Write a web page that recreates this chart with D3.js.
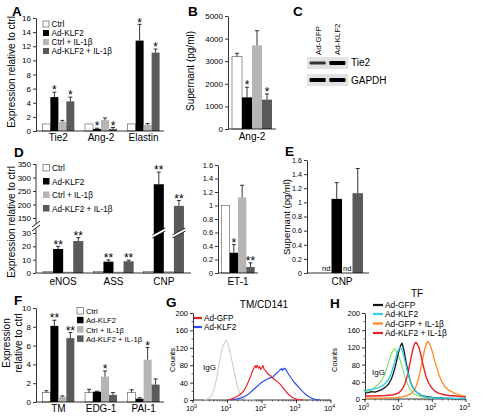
<!DOCTYPE html>
<html><head><meta charset="utf-8">
<script src="https://cdn.jsdelivr.net/npm/d3@7"></script>
<style>body{margin:0;background:#fff}svg text{font-family:"Liberation Sans",Arial,sans-serif;fill:#000}</style>
</head><body><svg id="c" width="483" height="417"></svg>
<script>
// ---------- shared series ----------
const seriesNames = ["Ctrl", "Ad-KLF2", "Ctrl + IL-1β", "Ad-KLF2 + IL-1β"];
const seriesColors = ["#ffffff", "#000000", "#b5b5b5", "#5a5a5a"];

// ---------- Panel A ----------
const aCats = ["Tie2", "Ang-2", "Elastin"];
const aVals = [[1, 4.8, 1.3, 4.2], [1, 0.3, 1.55, 0.3], [1, 12.8, 0.85, 11.1]];
const aErrs = [[0, 0.7, 0.2, 0.6], [0, 0.1, 0.3, 0.2], [0, 2.3, 0.2, 0.5]];
const aStars = [["", "*", "", "*"], ["", "*", "", "*"], ["", "*", "", "*"]];
const aTicks = [0, 2, 4, 6, 8, 10, 12, 14, 16];

// ---------- Panel B ----------
const bCats = ["Ang-2"];
const bVals = [[3200, 1400, 3700, 1300]];
const bErrs = [[150, 450, 650, 250]];
const bStars = [["", "*", "", "*"]];
const bTicks = [0, 1000, 2000, 3000, 4000, 5000];

// ---------- Panel C (blot) ----------
const blotLanes = ["Ad-GFP", "Ad-KLF2"];
const blotRows = ["Tie2", "GAPDH"];
const blotIntensity = [[0.55, 1.0], [1.0, 1.0]];

// ---------- Panel D ----------
const dCats = ["eNOS", "ASS", "CNP"];
const dVals = [[1, 18, 1, 24], [1, 8.5, 1, 8.8], [1, 275, 1.5, 195]];
const dErrs = [[0, 2, 0, 2.5], [0, 1.3, 0, 0.8], [0, 45, 0, 20]];
const dStars = [["", "**", "", "**"], ["", "**", "", "**"], ["", "**", "", "**"]];
const dTicksLow = [0, 10, 20, 30];
const dTicksHigh = [150, 200, 250, 300, 350];

const etCats = ["ET-1"];
const etVals = [[1, 0.3, 1.12, 0.09]];
const etErrs = [[0, 0.12, 0.18, 0.06]];
const etStars = [["", "*", "", "**"]];
const fracTicks = [0, 0.2, 0.4, 0.6, 0.8, 1, 1.2, 1.4, 1.6];

// ---------- Panel E ----------
const eCats = ["CNP"];
const eVals = [[null, 1.05, null, 1.13]];
const eErrs = [[0, 0.23, 0, 0.35]];
const eNd = [["nd", "", "nd", ""]];

// ---------- Panel F ----------
const fCats = ["TM", "EDG-1", "PAI-1"];
const fVals = [[1, 8.1, 0.55, 6.8], [1, 1.1, 2.7, 0.75], [1, 0.35, 4.5, 1.85]];
const fErrs = [[0.2, 0.6, 0.1, 0.6], [0.35, 0.05, 0.6, 0.25], [0.3, 0.1, 1.3, 0.6]];
const fStars = [["", "**", "", "**"], ["", "", "*", ""], ["", "", "*", ""]];
const fTicks = [0, 2, 4, 6, 8, 10];

// ---------- Panel G (flow, x = log10 intensity) ----------
const countTicks = [0, 40, 80, 120, 160, 200];
const gIgG = [[0.3,0],[0.4,2],[0.5,6],[0.56,14],[0.62,28],[0.68,48],[0.74,75],[0.8,100],[0.86,122],[0.92,133],[0.96,137],[1.0,131],[1.05,118],[1.1,100],[1.16,78],[1.22,55],[1.28,34],[1.34,18],[1.4,8],[1.48,3],[1.6,1],[1.8,0]];
const gGFP = [[1.0,0],[1.1,2],[1.2,5],[1.3,9],[1.4,15],[1.48,22],[1.55,32],[1.62,45],[1.68,56],[1.72,66],[1.76,72],[1.8,79],[1.83,74],[1.86,80],[1.9,73],[1.93,77],[1.96,70],[2.0,75],[2.03,79],[2.06,71],[2.1,68],[2.15,62],[2.2,58],[2.26,55],[2.32,50],[2.4,45],[2.48,40],[2.55,34],[2.62,27],[2.7,19],[2.78,12],[2.86,7],[2.95,3],[3.05,1],[3.2,0]];
const gKLF2 = [[1.1,0],[1.25,2],[1.4,5],[1.5,8],[1.6,13],[1.7,20],[1.8,27],[1.88,33],[1.95,38],[2.02,42],[2.1,46],[2.18,49],[2.25,52],[2.3,51],[2.36,57],[2.42,61],[2.48,66],[2.53,70],[2.57,72],[2.6,68],[2.64,73],[2.68,71],[2.72,66],[2.78,58],[2.85,50],[2.92,42],[3.0,35],[3.08,28],[3.16,21],[3.25,14],[3.35,8],[3.45,4],[3.55,1],[3.7,0]];
const gLegend = ["Ad-GFP", "Ad-KLF2"];

// ---------- Panel H ----------
const hIgG = [[0,16],[0.1,18],[0.2,22],[0.3,28],[0.4,34],[0.5,44],[0.58,56],[0.65,72],[0.72,90],[0.78,104],[0.84,114],[0.88,118],[0.92,112],[0.97,104],[1.02,96],[1.08,82],[1.14,64],[1.2,48],[1.28,32],[1.36,20],[1.45,12],[1.55,8],[1.7,5],[1.9,3],[2.2,2],[2.6,1],[3,1]];
const hGFP = [[0,14],[0.1,15],[0.2,17],[0.3,16],[0.4,19],[0.5,22],[0.6,27],[0.7,35],[0.78,46],[0.85,62],[0.92,82],[0.98,104],[1.03,118],[1.07,126],[1.1,130],[1.13,122],[1.17,108],[1.22,86],[1.28,62],[1.34,42],[1.4,30],[1.48,20],[1.56,14],[1.66,9],[1.8,6],[2.0,4],[2.3,2],[2.7,1],[3,1]];
const hKLF2 = [[0,20],[0.1,21],[0.2,22],[0.3,24],[0.4,26],[0.5,30],[0.6,36],[0.7,46],[0.78,60],[0.86,80],[0.93,100],[0.99,114],[1.04,120],[1.08,118],[1.12,110],[1.17,94],[1.23,74],[1.3,52],[1.37,36],[1.45,24],[1.54,15],[1.65,9],[1.8,5],[2.0,3],[2.3,2],[3,1]];
const hGFPIL = [[0,2],[0.5,2],[0.9,3],[1.1,5],[1.25,8],[1.38,13],[1.46,20],[1.53,32],[1.6,50],[1.66,72],[1.72,95],[1.77,115],[1.82,128],[1.86,134],[1.9,131],[1.95,122],[2.0,110],[2.06,92],[2.12,76],[2.2,56],[2.28,40],[2.38,28],[2.5,20],[2.62,15],[2.75,11],[2.88,8],[3.0,6]];
const hKLF2IL = [[0,7],[0.3,7],[0.6,8],[0.85,10],[1.0,14],[1.1,22],[1.18,34],[1.25,52],[1.31,74],[1.37,96],[1.42,115],[1.47,128],[1.51,132],[1.55,128],[1.6,120],[1.65,106],[1.7,88],[1.76,68],[1.82,50],[1.9,36],[1.98,26],[2.08,18],[2.2,13],[2.35,10],[2.5,8],[2.7,7],[2.9,5],[3.0,4]];
const hLegend = ["Ad-GFP", "Ad-KLF2", "Ad-GFP + IL-1β", "Ad-KLF2 + IL-1β"];
const hColors = ["#111111", "#35cdf0", "#ff8a1c", "#e8202a"];

// ================= drawing =================
const svg = d3.select("#c");
const fmtNum = d => String(+(+d).toFixed(1));
const TICK_FS = 8, LABEL_FS = 10, CAT_FS = 10;

function letter(t, x, y) {
  svg.append("text").attr("x", x).attr("y", y).attr("font-size", 13.5).attr("font-weight", "bold").text(t);
}
function vlabel(t, x, y, fs) {
  svg.append("text").attr("transform", `translate(${x},${y}) rotate(-90)`).attr("text-anchor", "middle")
    .attr("font-size", fs || LABEL_FS).text(t);
}
function yAxis(scale, x, ticks, fmt, fs) {
  const ax = d3.axisLeft(scale).tickValues(ticks).tickSize(3).tickPadding(2).tickSizeOuter(0);
  ax.tickFormat(fmt || (d => d));
  const g = svg.append("g").attr("transform", `translate(${x},0)`).call(ax);
  g.selectAll("text").attr("font-size", fs || TICK_FS);
  g.select(".domain").attr("stroke", "#000").attr("stroke-width", 0.8);
  g.selectAll(".tick line").attr("stroke-width", 0.8);
  return g;
}
function hline(x1, x2, y) {
  svg.append("line").attr("x1", x1).attr("x2", x2).attr("y1", y).attr("y2", y).attr("stroke", "#000").attr("stroke-width", 0.8);
}
function legend(x, y0, dy, fs, sw) {
  seriesNames.forEach((n, i) => {
    const y = y0 + i * dy;
    svg.append("rect").attr("x", x).attr("y", y - sw + 1).attr("width", sw).attr("height", sw)
      .attr("fill", seriesColors[i]).attr("stroke", i === 0 ? "#444" : "none").attr("stroke-width", 0.6);
    svg.append("text").attr("x", x + sw + 2.5).attr("y", y + 1).attr("font-size", fs).text(n);
  });
}
function bars(cfg) {
  const xb = d3.scaleBand().domain(cfg.cats).range(cfg.range).paddingInner(cfg.pi || 0).paddingOuter(cfg.po || 0).align(cfg.align == null ? 0.5 : cfg.align);
  const xs = d3.scaleBand().domain(d3.range(4)).range([0, xb.bandwidth()]);
  const y = cfg.y;
  cfg.cats.forEach((c, i) => {
    const g = svg.append("g").attr("transform", `translate(${xb(c)},0)`);
    cfg.vals[i].forEach((v, j) => {
      const cx = xs(j) + xs.bandwidth() / 2;
      if (cfg.nd && cfg.nd[i][j]) {
        g.append("text").attr("x", cx).attr("y", y(0) - 2).attr("text-anchor", "middle").attr("font-size", 7.5).text(cfg.nd[i][j]);
      }
      if (v == null) return;
      const yt = y(v), y0 = y(0);
      g.append("rect").attr("x", xs(j)).attr("y", yt).attr("width", xs.bandwidth()).attr("height", Math.max(0.6, y0 - yt))
        .attr("fill", seriesColors[j]).attr("stroke", j === 0 ? "#555" : "none").attr("stroke-width", 0.6);
      const e = cfg.errs[i][j];
      let top = yt;
      if (e > 0) {
        const ye = y(v + e);
        top = ye;
        g.append("line").attr("x1", cx).attr("x2", cx).attr("y1", yt).attr("y2", ye).attr("stroke", "#000").attr("stroke-width", 0.8);
        g.append("line").attr("x1", cx - 2).attr("x2", cx + 2).attr("y1", ye).attr("y2", ye).attr("stroke", "#000").attr("stroke-width", 0.8);
      }
      if (cfg.breakY && v > cfg.breakMin) {
        const by = cfg.breakY, x0 = xs(j) - 1.5, x1 = xs(j) + xs.bandwidth() + 1.5;
        g.append("path").attr("d", `M${x0},${by + 4} L${x1},${by - 3} L${x1},${by} L${x0},${by + 7} Z`).attr("fill", "#fff");
        g.append("line").attr("x1", x0).attr("y1", by + 4).attr("x2", x1).attr("y2", by - 3).attr("stroke", "#000").attr("stroke-width", 0.8);
        g.append("line").attr("x1", x0).attr("y1", by + 7).attr("x2", x1).attr("y2", by).attr("stroke", "#000").attr("stroke-width", 0.8);
      }
      if (cfg.stars && cfg.stars[i][j]) {
        g.append("text").attr("x", cx).attr("y", top + 2.2).attr("text-anchor", "middle").attr("font-size", 12).text(cfg.stars[i][j]);
      }
    });
    svg.append("text").attr("x", xb(c) + xb.bandwidth() / 2).attr("y", cfg.labelY).attr("text-anchor", "middle")
      .attr("font-size", CAT_FS).text(c);
  });
  hline(cfg.range[0], cfg.xEnd || cfg.range[1], y(0));
}

// ---- A ----
letter("A", 12, 16);
const yA = d3.scaleLinear().domain([0, 16]).range([131, 18]);
yAxis(yA, 36, aTicks);
vlabel("Expression relative to ctrl", 15, 72);
bars({cats: aCats, vals: aVals, errs: aErrs, stars: aStars, range: [36, 166], pi: 0.25, po: 0.15, y: yA, labelY: 141, xEnd: 164});
legend(43, 26, 9, 8.2, 6);

// ---- B ----
letter("B", 188, 16);
const yB = d3.scaleLinear().domain([0, 5000]).range([129, 16]);
yAxis(yB, 228, bTicks);
vlabel("Supernant (pg/ml)", 194, 71);
bars({cats: bCats, vals: bVals, errs: bErrs, stars: bStars, range: [228, 276], po: 0.1, y: yB, labelY: 140});

// ---- C ----
letter("C", 293, 16);
const laneX = d3.scaleBand().domain(blotLanes).range([307, 348]).padding(0.08);
const rowY = d3.scaleBand().domain(blotRows).range([57, 86]).paddingInner(0.3);
const grey = d3.interpolateRgb("#ffffff", "#000000");
blotRows.forEach((r, ri) => {
  svg.append("rect").attr("x", 307).attr("y", rowY(r)).attr("width", 41).attr("height", rowY.bandwidth()).attr("fill", "#e2e2e2");
  blotLanes.forEach((l, li) => {
    const k = blotIntensity[ri][li];
    const h = 1.5 + 2.5 * k;
    svg.append("rect").attr("x", laneX(l) + 1).attr("y", rowY(r) + rowY.bandwidth() / 2 - h / 2).attr("width", laneX.bandwidth() - 2).attr("height", h)
      .attr("rx", 1.2).attr("fill", grey(0.55 + 0.45 * k));
  });
  svg.append("text").attr("x", 351).attr("y", rowY(r) + rowY.bandwidth() / 2 + 3.5).attr("font-size", 10).text(r);
});
blotLanes.forEach(l => {
  svg.append("text").attr("transform", `translate(${laneX(l) + laneX.bandwidth() / 2 + 3},55) rotate(-90)`).attr("font-size", 8).text(l);
});

// ---- D ----
letter("D", 14, 157);
const yDlow = d3.scaleLinear().domain([0, 30]).range([273, 233]);
const yDhigh = d3.scaleLinear().domain([150, 350]).range([218, 164]);
const yD = v => (v <= 40 ? yDlow(v) : yDhigh(v));
const gl = yAxis(yDlow, 36, dTicksLow);
gl.select(".domain").remove();
const gh = yAxis(yDhigh, 36, dTicksHigh);
gh.select(".domain").remove();
svg.append("line").attr("x1", 36).attr("x2", 36).attr("y1", 273).attr("y2", 228.5).attr("stroke", "#000").attr("stroke-width", 0.8);
svg.append("line").attr("x1", 36).attr("x2", 36).attr("y1", 223.5).attr("y2", 164).attr("stroke", "#000").attr("stroke-width", 0.8);
svg.append("line").attr("x1", 32).attr("y1", 227).attr("x2", 40).attr("y2", 221).attr("stroke", "#000").attr("stroke-width", 0.9);
svg.append("line").attr("x1", 32).attr("y1", 231).attr("x2", 40).attr("y2", 225).attr("stroke", "#000").attr("stroke-width", 0.9);
vlabel("Expression relative to ctrl", 15, 222);
bars({cats: dCats, vals: dVals, errs: dErrs, stars: dStars, range: [36, 191], pi: 0.2, po: 0.14, y: yD, labelY: 285, breakY: 231, breakMin: 100});
legend(43, 170, 13.5, 8.2, 6.5);

// ET-1
const yET = d3.scaleLinear().domain([0, 1.6]).range([273, 165]);
yAxis(yET, 218, fracTicks, fmtNum, 7.4);
bars({cats: etCats, vals: etVals, errs: etErrs, stars: etStars, range: [218, 258], po: 0.1, y: yET, labelY: 285});

// ---- E ----
letter("E", 285, 156);
const yE = d3.scaleLinear().domain([0, 1.6]).range([273, 160]);
yAxis(yE, 307, fracTicks, fmtNum, 7.2);
vlabel("Supernant (pg/ml)", 290, 217, 9.5);
bars({cats: eCats, vals: eVals, errs: eErrs, nd: eNd, range: [307, 369], po: 0.238, align: 0.7, y: yE, labelY: 285});

// ---- F ----
letter("F", 14, 305);
const yF = d3.scaleLinear().domain([0, 10]).range([402, 308]);
yAxis(yF, 36, fTicks);
vlabel("Expression", 10, 343);
vlabel("relative to ctrl", 22, 343);
bars({cats: fCats, vals: fVals, errs: fErrs, stars: fStars, range: [36, 166], pi: 0.25, po: 0.15, y: yF, labelY: 412, xEnd: 164});
legend(77, 313, 9.3, 7.6, 6.5);

// ---- flow helpers ----
function flowAxes(xs, ys, nDec) {
  yAxis(ys, xs(0), countTicks, null, 7.5);
  [20, 60, 100, 140, 180].forEach(v => svg.append("line").attr("x1", xs(0) - 1.5).attr("x2", xs(0)).attr("y1", ys(v)).attr("y2", ys(v)).attr("stroke", "#000").attr("stroke-width", 0.6));
  hline(xs(0), xs(nDec), ys(0));
  for (let d = 0; d <= nDec; d++) {
    svg.append("line").attr("x1", xs(d)).attr("x2", xs(d)).attr("y1", ys(0)).attr("y2", ys(0) + 3).attr("stroke", "#000").attr("stroke-width", 0.8);
    const t = svg.append("text").attr("x", xs(d) - 1.5).attr("y", ys(0) + 11).attr("text-anchor", "middle").attr("font-size", 7.5);
    t.append("tspan").text("10");
    t.append("tspan").attr("dy", -3).attr("font-size", 5).text(d);
    if (d < nDec) for (let m = 2; m <= 9; m++) {
      const xm = xs(d + Math.log10(m));
      svg.append("line").attr("x1", xm).attr("x2", xm).attr("y1", ys(0)).attr("y2", ys(0) + 1.6).attr("stroke", "#000").attr("stroke-width", 0.5);
    }
  }
}
function curve(xs, ys, data, color, w) {
  svg.append("path").datum(data).attr("fill", "none").attr("stroke", color).attr("stroke-width", w)
    .attr("stroke-linejoin", "round").attr("d", d3.line().x(d => xs(d[0])).y(d => ys(d[1])));
}

// ---- G ----
letter("G", 166, 307);
svg.append("text").attr("x", 264).attr("y", 308).attr("text-anchor", "middle").attr("font-size", 10).text("TM/CD141");
const xG = d3.scaleLinear().domain([0, 4]).range([193, 331]);
const yG = d3.scaleLinear().domain([0, 200]).range([400, 313]);
flowAxes(xG, yG, 4);
vlabel("Counts", 175, 360, 7.5);
curve(xG, yG, gIgG, "#c9cfcf", 1.1);
curve(xG, yG, gKLF2, "#2a4cf0", 1.2);
curve(xG, yG, gGFP, "#e8262a", 1.2);
svg.append("text").attr("x", 203).attr("y", 370).attr("font-size", 8).attr("fill", "#333").text("IgG");
[["#e8262a", 318], ["#2a4cf0", 327]].forEach((c, i) => {
  svg.append("line").attr("x1", 194).attr("x2", 202).attr("y1", c[1]).attr("y2", c[1]).attr("stroke", c[0]).attr("stroke-width", 2.2);
  svg.append("text").attr("x", 204).attr("y", c[1] + 3).attr("font-size", 8.2).text(gLegend[i]);
});

// ---- H ----
letter("H", 330, 308);
svg.append("text").attr("x", 417).attr("y", 297).attr("text-anchor", "middle").attr("font-size", 10).text("TF");
const xH = d3.scaleLinear().domain([0, 3]).range([365, 466]);
const yH = d3.scaleLinear().domain([0, 200]).range([399, 313]);
flowAxes(xH, yH, 3);
vlabel("Counts", 337, 360, 7.5);
curve(xH, yH, hIgG, "#7fe05a", 1.1);
curve(xH, yH, hGFPIL, hColors[2], 1.3);
curve(xH, yH, hKLF2IL, hColors[3], 1.4);
curve(xH, yH, hGFP, hColors[0], 1.3);
curve(xH, yH, hKLF2, hColors[1], 1.4);
svg.append("text").attr("x", 372).attr("y", 375).attr("font-size", 8).attr("fill", "#6fd84a").text("IgG");
hLegend.forEach((n, i) => {
  const y = [305, 314, 323.5, 333][i];
  svg.append("line").attr("x1", 373).attr("x2", 383).attr("y1", y).attr("y2", y).attr("stroke", hColors[i]).attr("stroke-width", 2.2);
  svg.append("text").attr("x", 385).attr("y", y + 3).attr("font-size", 8.4).text(n);
});
</script></body></html>
